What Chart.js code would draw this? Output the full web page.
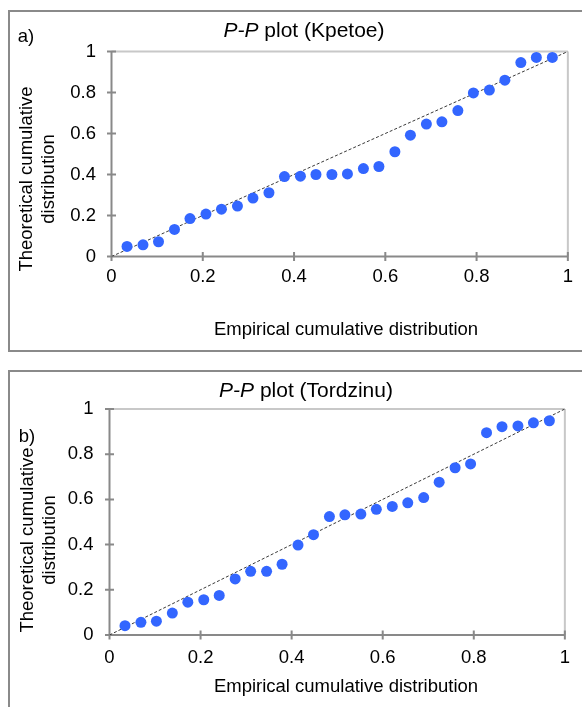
<!DOCTYPE html>
<html>
<head>
<meta charset="utf-8">
<script src="https://cdn.jsdelivr.net/npm/chart.js@4"></script>
<style>
  html, body { margin: 0; padding: 0; background: #fff; }
  body { width: 582px; height: 707px; position: relative; overflow: hidden;
         font-family: "Liberation Sans", Arial, sans-serif; color: #000; }
  .frame { position: absolute; left: 8px; width: 620px; border: 2px solid #8a8a8a; box-sizing: border-box; }
  .cv { position: absolute; left: 0; }
  .txt { position: absolute; white-space: nowrap; line-height: 1; transform: translate(-50%, -50%); }
  .title { font-size: 21px; }
  .axt { font-size: 18.5px; }
  .ylab { font-size: 18.5px; line-height: 22px; text-align: center; transform: translate(-50%, -50%) rotate(-90deg); }
  .tag { font-size: 18.5px; }
</style>
</head>
<body>
<div class="frame" style="top:10px;height:342px;"></div>
<div class="frame" style="top:370px;height:400px;"></div>

<canvas id="chartA" class="cv" style="top:0px"></canvas>
<canvas id="chartB" class="cv" style="top:360px"></canvas>

<div class="txt title" style="left:304px;top:29px;"><i>P-P</i> plot (Kpetoe)</div>
<div class="txt tag" style="left:26px;top:36px;">a)</div>
<div class="txt ylab" style="left:37px;top:179px;">Theoretical cumulative<br>distribution</div>
<div class="txt axt" style="left:346px;top:329px;">Empirical cumulative distribution</div>

<div class="txt title" style="left:306px;top:389px;"><i>P-P</i> plot (Tordzinu)</div>
<div class="txt ylab" style="left:38px;top:540px;">Theoretical cumulative<br>distribution</div>
<div class="txt tag" style="left:27px;top:436px;">b)</div>
<div class="txt axt" style="left:346px;top:686px;">Empirical cumulative distribution</div>

<script>
// Empirical cumulative probability of each ranked observation
const empirical = [0.034, 0.069, 0.103, 0.138, 0.172, 0.207, 0.241, 0.276, 0.310, 0.345,
                   0.379, 0.414, 0.448, 0.483, 0.517, 0.552, 0.586, 0.621, 0.655, 0.690,
                   0.724, 0.759, 0.793, 0.828, 0.862, 0.897, 0.931, 0.966];

// Theoretical cumulative probability, Kpetoe station
const theoreticalKpetoe = [0.049, 0.057, 0.072, 0.132, 0.185, 0.207, 0.231, 0.246, 0.285, 0.311,
                           0.390, 0.392, 0.400, 0.400, 0.403, 0.429, 0.439, 0.511, 0.592, 0.646,
                           0.657, 0.712, 0.798, 0.812, 0.860, 0.946, 0.971, 0.971];

// Theoretical cumulative probability, Tordzinu station
const theoreticalTordzinu = [0.041, 0.056, 0.061, 0.097, 0.145, 0.156, 0.175, 0.248, 0.282, 0.282,
                             0.313, 0.398, 0.444, 0.524, 0.532, 0.535, 0.556, 0.569, 0.585, 0.608,
                             0.676, 0.740, 0.757, 0.895, 0.922, 0.925, 0.939, 0.948];

// 1:1 reference line
const referenceLine = [0, 1];

// Axis ticks (same on both axes)
const tickValues = [0, 0.2, 0.4, 0.6, 0.8, 1];
const tickLabels = ['0', '0.2', '0.4', '0.6', '0.8', '1'];

const AXIS_COLOR = '#898989';
const FRAME_COLOR = '#c8c8c8';
const POINT_COLOR = '#3366ff';
const FONT = { family: '"Liberation Sans", Arial, sans-serif', size: 18.5 };

// Axis lines, crossing tick marks and the light top/right plot edges
const axesPlugin = {
  id: 'ppAxes',
  beforeDatasetsDraw(chart) {
    const { ctx, chartArea: a, scales: { x, y } } = chart;
    ctx.save();
    ctx.lineWidth = 2;
    ctx.strokeStyle = FRAME_COLOR;
    ctx.beginPath();
    ctx.moveTo(a.left, a.top); ctx.lineTo(a.right, a.top);
    ctx.moveTo(a.right, a.top); ctx.lineTo(a.right, a.bottom);
    ctx.stroke();

    ctx.strokeStyle = AXIS_COLOR;
    ctx.beginPath();
    ctx.moveTo(a.left, a.top - 1); ctx.lineTo(a.left, a.bottom);
    ctx.moveTo(a.left, a.bottom); ctx.lineTo(a.right + 1, a.bottom);
    const t = 4.5;
    x.ticks.forEach(tk => {
      const px = x.getPixelForValue(tk.value);
      ctx.moveTo(px, a.bottom - t); ctx.lineTo(px, a.bottom + t);
    });
    y.ticks.forEach(tk => {
      const py = y.getPixelForValue(tk.value);
      ctx.moveTo(a.left - t, py); ctx.lineTo(a.left + t, py);
    });
    ctx.stroke();
    ctx.restore();
  }
};

function makePP(canvasId, height, values, geom) {
  const canvas = document.getElementById(canvasId);
  canvas.width = 582; canvas.height = height;
  canvas.style.width = '582px'; canvas.style.height = height + 'px';

  const points = empirical.map((e, i) => ({ x: e, y: values[i] }));
  const diag = referenceLine.map(v => ({ x: v, y: v }));

  const axisBase = (pad) => ({
    type: 'linear', min: 0, max: 1,
    afterBuildTicks: s => { s.ticks = tickValues.map(v => ({ value: v })); },
    grid: { display: false, drawTicks: false },
    border: { display: false },
    ticks: {
      color: '#000', font: FONT, padding: pad,
      callback: v => tickLabels[tickValues.indexOf(v)]
    }
  });

  const xs = axisBase(geom.xPad);
  xs.afterFit = s => { s.height = 40; };
  const ys = axisBase(geom.yPad);
  ys.afterFit = s => { s.width = geom.left; };

  return new Chart(canvas, {
    type: 'scatter',
    data: {
      datasets: [
        {
          type: 'line', data: diag, borderColor: '#3a3a3a', borderWidth: 1,
          borderDash: [3, 2], pointRadius: 0, fill: false, order: 2
        },
        {
          data: points, backgroundColor: POINT_COLOR, borderWidth: 0,
          pointRadius: 5.5, pointHoverRadius: 5.5, order: 1
        }
      ]
    },
    options: {
      responsive: false, animation: false, devicePixelRatio: 1,
      layout: { padding: { left: 0, top: geom.top, right: 582 - geom.right, bottom: height - geom.bottom - 40 } },
      plugins: { legend: { display: false }, tooltip: { enabled: false }, title: { display: false } },
      scales: { x: xs, y: ys }
    },
    plugins: [axesPlugin]
  });
}

makePP('chartA', 360, theoreticalKpetoe, { left: 111.5, right: 570.5, top: 51.5, bottom: 256.5, xPad: 9, yPad: 15.5 });
makePP('chartB', 347, theoreticalTordzinu, { left: 109.5, right: 570.5, top: 49, bottom: 275, xPad: 12, yPad: 16 });
</script>
</body>
</html>
